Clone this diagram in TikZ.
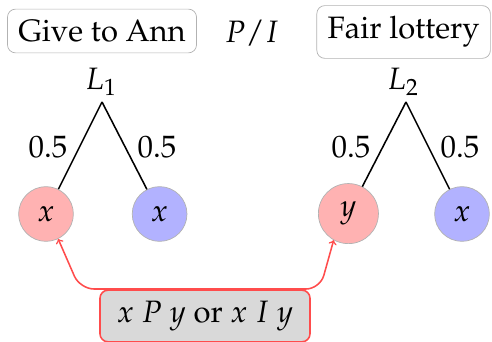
\documentclass[tikz,border=0pt]{standalone}
\usepackage[T1]{fontenc}
\usepackage{mathpazo}
\usetikzlibrary{positioning}

\begin{document}
\begin{tikzpicture}[>=to, line width=1.1pt,
    every node/.style={font=\fontsize{22}{26}\selectfont},
    optbox/.style={draw=gray!60, line width=0.5pt, rounded corners=0.2cm, inner sep=7.7pt},
    pinkball/.style={circle, draw=gray!60, line width=0.5pt, fill=red!30, inner sep=8pt},
    blueball/.style={circle, draw=gray!60, line width=0.5pt, fill=blue!30, inner sep=8pt},
    prob/.style={inner sep=0pt}]

    \useasboundingbox (0,0) rectangle (12.3,8.55);

    % =================================================================
    % PHẦN 1: HAI LỰA CHỌN VÀ QUAN HỆ P/I
    % =================================================================
    \node[optbox] (ann) at (2.55,7.775) {Give to Ann};
    \node (rel) at (6.3,7.725) {$P/I$};
    \node[optbox] (lot) at (10.09,7.75) {Fair lottery};

    % =================================================================
    % PHẦN 2: HAI XỔ SỐ L1, L2
    % =================================================================
    % Xổ số L1
    \coordinate (top1) at (2.55,6.0);
    \node[inner sep=0pt] (L1) at (2.525,6.5) {$L_1$};
    \node[pinkball] (ann1) at (1.15,3.2) {$x$};
    \node[blueball] (ann2) at (3.99,3.2) {$x$};
    \draw (top1) -- (ann1);
    \draw (top1) -- (ann2);
    \node[prob] at (1.2,4.875) {0.5};
    \node[prob] at (3.925,4.875) {0.5};

    % Xổ số L2
    \coordinate (top2) at (10.15,6.0);
    \node[inner sep=0pt] (L2) at (10.075,6.5) {$L_2$};
    \node[pinkball] (lot1) at (8.71,3.21) {$y$};
    \node[blueball] (lot2) at (11.55,3.2) {$x$};
    \draw (top2) -- (lot1);
    \draw (top2) -- (lot2);
    \node[prob] at (8.775,4.875) {0.5};
    \node[prob] at (11.5,4.875) {0.5};

    % =================================================================
    % PHẦN 3: SO SÁNH x VÀ y
    % =================================================================
    \node[optbox, draw=red!70, line width=1.1pt, fill=gray!30, inner xsep=12pt] (cmp) at (5.125,0.65) {$x\ P\ y$ or $x\ I\ y$};

    \coordinate (bendL) at (2.0,1.325);
    \coordinate (bendR) at (8.0,1.325);
    \draw[red!70, <->, rounded corners=0.35cm] (ann1.-64) -- (bendL) -- (bendR) -- (lot1.-119);

\end{tikzpicture}
\end{document}
